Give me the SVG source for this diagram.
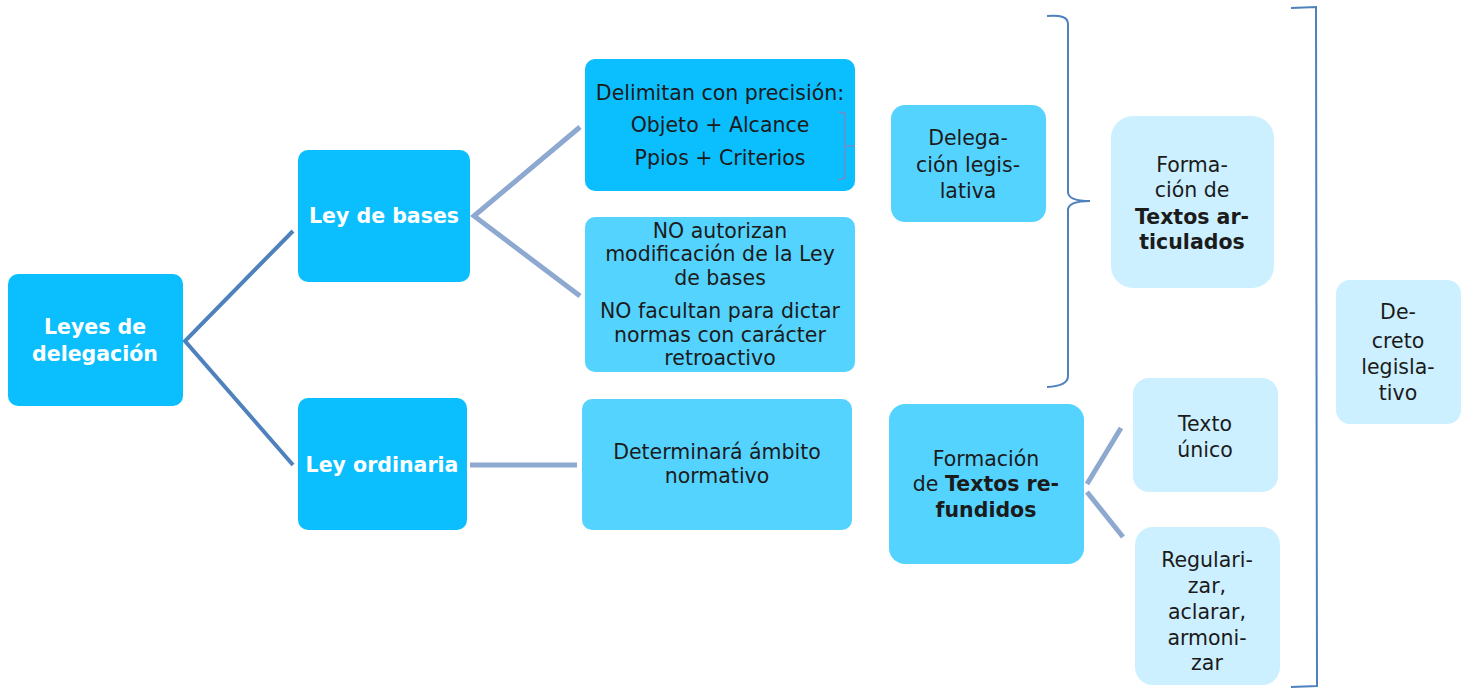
<svg xmlns="http://www.w3.org/2000/svg" width="1466" height="689" viewBox="0 0 1466 689">
<style>
text{font-family:"DejaVu Sans","Liberation Sans",sans-serif;font-size:20.5px;fill:#1b1b1b;text-anchor:middle}
.w{fill:#ffffff;font-weight:bold;font-size:20.5px}
.b{font-weight:bold}
.c1{fill:#0BBFFF}
.c2{fill:#55D3FF}
.c3{fill:#CCF0FF}
.l1{stroke:#4F81BD;stroke-width:4;fill:none}
.l2{stroke:#8EA9D0;stroke-width:5;fill:none}
.br{stroke:#4F81BD;stroke-width:2;fill:none}
</style>
<rect width="1466" height="689" fill="#ffffff"/>
<g id="connectors">
<path class="l1" d="M293,231 L185,341 L293,465"/>
<path class="l2" d="M580,127 L474,216 L580,296"/>
<path class="l2" d="M470,465 L577,465"/>
<path class="l2" d="M1121,428 L1087,484"/>
<path class="l2" d="M1087,492 L1123,537"/>
<path class="br" d="M1047,16 Q1068,14 1068,24 L1068,192 Q1068,201 1090,201 Q1068,201 1068,210 L1068,376 Q1068,386 1047,387"/>
<path class="br" d="M1291,8 L1316,7 L1317,686 L1291,687"/>
</g>
<g id="leyes-delegacion"><rect class="c1" x="8" y="274" width="175" height="132" rx="10"/><text class="w" x="95" y="334">Leyes de</text><text class="w" x="95" y="361">delegación</text></g>
<g id="ley-bases"><rect class="c1" x="298" y="150" width="172" height="132" rx="10"/><text class="w" x="384" y="223">Ley de bases</text></g>
<g id="ley-ordinaria"><rect class="c1" x="298" y="398" width="169" height="132" rx="10"/><text class="w" x="382" y="472">Ley ordinaria</text></g>
<g id="delimitan"><rect class="c1" x="585" y="59" width="270" height="132" rx="10"/><text x="720" y="100">Delimitan con precisión:</text><text x="720" y="132">Objeto + Alcance</text><text x="720" y="165">Ppios + Criterios</text><path class="br" style="stroke-width:1.5;stroke:#6D8FC9" d="M838,112 L845,113 L845,178 L838,180 M845,146 L855,146"/></g>
<g id="no-autorizan"><rect class="c2" x="585" y="217" width="270" height="155" rx="10"/><text x="720" y="238">NO autorizan</text><text x="720" y="261">modificación de la Ley</text><text x="720" y="285">de bases</text><text x="720" y="318">NO facultan para dictar</text><text x="720" y="342">normas con carácter</text><text x="720" y="365">retroactivo</text></g>
<g id="determinara"><rect class="c2" x="582" y="399" width="270" height="131" rx="10"/><text x="717" y="459">Determinará ámbito</text><text x="717" y="483">normativo</text></g>
<g id="delegacion-legislativa"><rect class="c2" x="891" y="105" width="155" height="117" rx="14"/><text x="968" y="145">Delega-</text><text x="968" y="172">ción legis-</text><text x="968" y="198">lativa</text></g>
<g id="textos-articulados"><rect class="c3" x="1111" y="116" width="163" height="172" rx="22"/><text x="1192" y="172">Forma-</text><text x="1192" y="197">ción de</text><text class="b" x="1192" y="224">Textos ar-</text><text class="b" x="1192" y="249">ticulados</text></g>
<g id="textos-refundidos"><rect class="c2" x="889" y="404" width="195" height="160" rx="16"/><text x="986" y="466">Formación</text><text x="986" y="491">de <tspan class="b">Textos re-</tspan></text><text class="b" x="986" y="517">fundidos</text></g>
<g id="texto-unico"><rect class="c3" x="1133" y="378" width="145" height="114" rx="16"/><text x="1205" y="431">Texto</text><text x="1205" y="457">único</text></g>
<g id="regularizar"><rect class="c3" x="1135" y="527" width="145" height="158" rx="18"/><text x="1207" y="567">Regulari-</text><text x="1207" y="593">zar,</text><text x="1207" y="619">aclarar,</text><text x="1207" y="645">armoni-</text><text x="1207" y="670">zar</text></g>
<g id="decreto-legislativo"><rect class="c3" x="1336" y="280" width="125" height="144" rx="14"/><text x="1398" y="319">De-</text><text x="1398" y="348">creto</text><text x="1398" y="374">legisla-</text><text x="1398" y="400">tivo</text></g>
</svg>
